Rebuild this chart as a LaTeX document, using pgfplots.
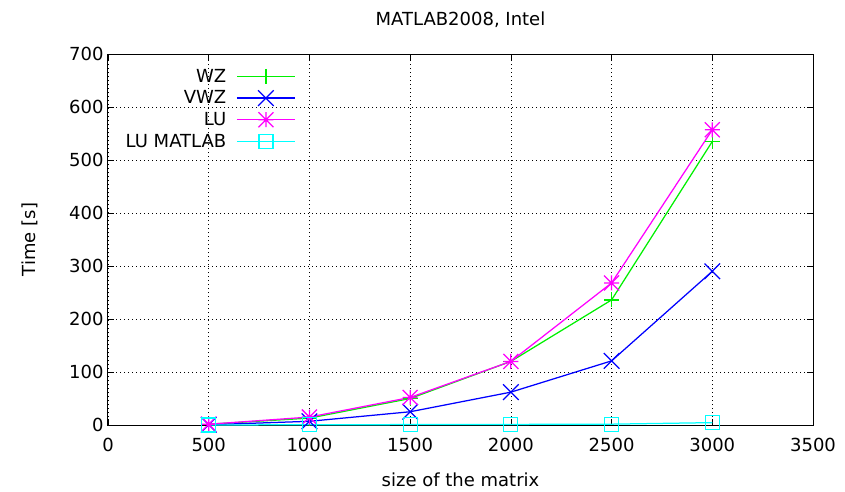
\documentclass[border=0pt]{standalone}
\usepackage{fontspec}
\setmainfont{DejaVu Sans}
\usepackage{pgfplots}
\pgfplotsset{compat=1.18}
\definecolor{gpgreen}{rgb}{0,0.94,0}
\definecolor{gpblue}{rgb}{0,0,1}
\definecolor{gpmag}{rgb}{1,0,1}
\definecolor{gpcyan}{rgb}{0,1,1}
\newcommand\bigfont{\fontsize{18}{21}\selectfont}
\pgfdeclareplotmark{gpstar}{%
  \pgfpathmoveto{\pgfqpoint{-\pgfplotmarksize}{0pt}}\pgfpathlineto{\pgfqpoint{\pgfplotmarksize}{0pt}}%
  \pgfpathmoveto{\pgfqpoint{0pt}{-\pgfplotmarksize}}\pgfpathlineto{\pgfqpoint{0pt}{\pgfplotmarksize}}%
  \pgfpathmoveto{\pgfqpoint{-\pgfplotmarksize}{-\pgfplotmarksize}}\pgfpathlineto{\pgfqpoint{\pgfplotmarksize}{\pgfplotmarksize}}%
  \pgfpathmoveto{\pgfqpoint{-\pgfplotmarksize}{\pgfplotmarksize}}\pgfpathlineto{\pgfqpoint{\pgfplotmarksize}{-\pgfplotmarksize}}%
  \pgfusepathqstroke}
\begin{document}
\begin{tikzpicture}
\begin{axis}[
  at={(0pt,0pt)}, anchor=origin,
  scale only axis, width=705pt, height=371pt,
  xmin=0, xmax=3500, ymin=0, ymax=700,
  xtick={0,500,...,3500}, ytick={0,100,...,700},
  tick align=inside, major tick length=6pt,
  tick style={black, line width=0.7pt},
  axis line style={black, line width=1pt},
  grid=major, grid style={black, dash pattern=on 1pt off 3pt, line width=0.7pt},
  /pgf/number format/assume math mode=true,
  /pgf/number format/1000 sep={},
  tick label style={font=\bigfont},
  label style={font=\bigfont},
  title style={font=\bigfont, yshift=17pt},
  title={MATLAB2008, Intel},
  xlabel={size of the matrix},
  ylabel={Time [s]},
  xlabel style={yshift=-14pt},
  ylabel style={yshift=24pt},
  xticklabel style={yshift=-10pt},
  yticklabel style={xshift=-1pt},
  every axis plot/.append style={line width=1.25pt, mark size=7.5pt},
  legend plot pos=right,
  legend cell align=right,
  legend style={at={(0.022,0.965)}, anchor=north west, draw=none, fill=none,
    font=\bigfont, row sep=5pt, inner sep=1pt,
    nodes={inner sep=1pt, font=\bigfont}},
  legend image code/.code={\path (0pt,0pt); \draw[mark repeat=2, mark phase=2] plot coordinates {(9pt,0pt) (38pt,0pt) (67pt,0pt)};},
]
\addplot[draw=gpgreen, mark=+, mark options={draw=gpgreen, fill=gpgreen}] coordinates {(500,1.5) (1000,13) (1500,50) (2000,120) (2500,236) (3000,535)};
\addlegendentry{WZ}
\addplot[draw=gpblue, mark=x, mark size=11pt, mark options={draw=gpblue, fill=gpblue}] coordinates {(500,0.5) (1000,7) (1500,25) (2000,62) (2500,121) (3000,290)};
\addlegendentry{VWZ}
\addplot[draw=gpmag, mark=gpstar, mark options={draw=gpmag, fill=gpmag}] coordinates {(500,1.5) (1000,15) (1500,52) (2000,120) (2500,268) (3000,557)};
\addlegendentry{LU}
\addplot[draw=gpcyan, mark=square, mark size=7pt, mark options={draw=gpcyan, fill=white}] coordinates {(500,0.1) (1000,0.4) (1500,0.8) (2000,1.1) (2500,1.6) (3000,4.5)};
\addlegendentry{LU MATLAB}
\end{axis}
\pgfresetboundingbox
\useasboundingbox (-108pt,-66pt) rectangle (737pt,425pt);
\end{tikzpicture}
\end{document}
